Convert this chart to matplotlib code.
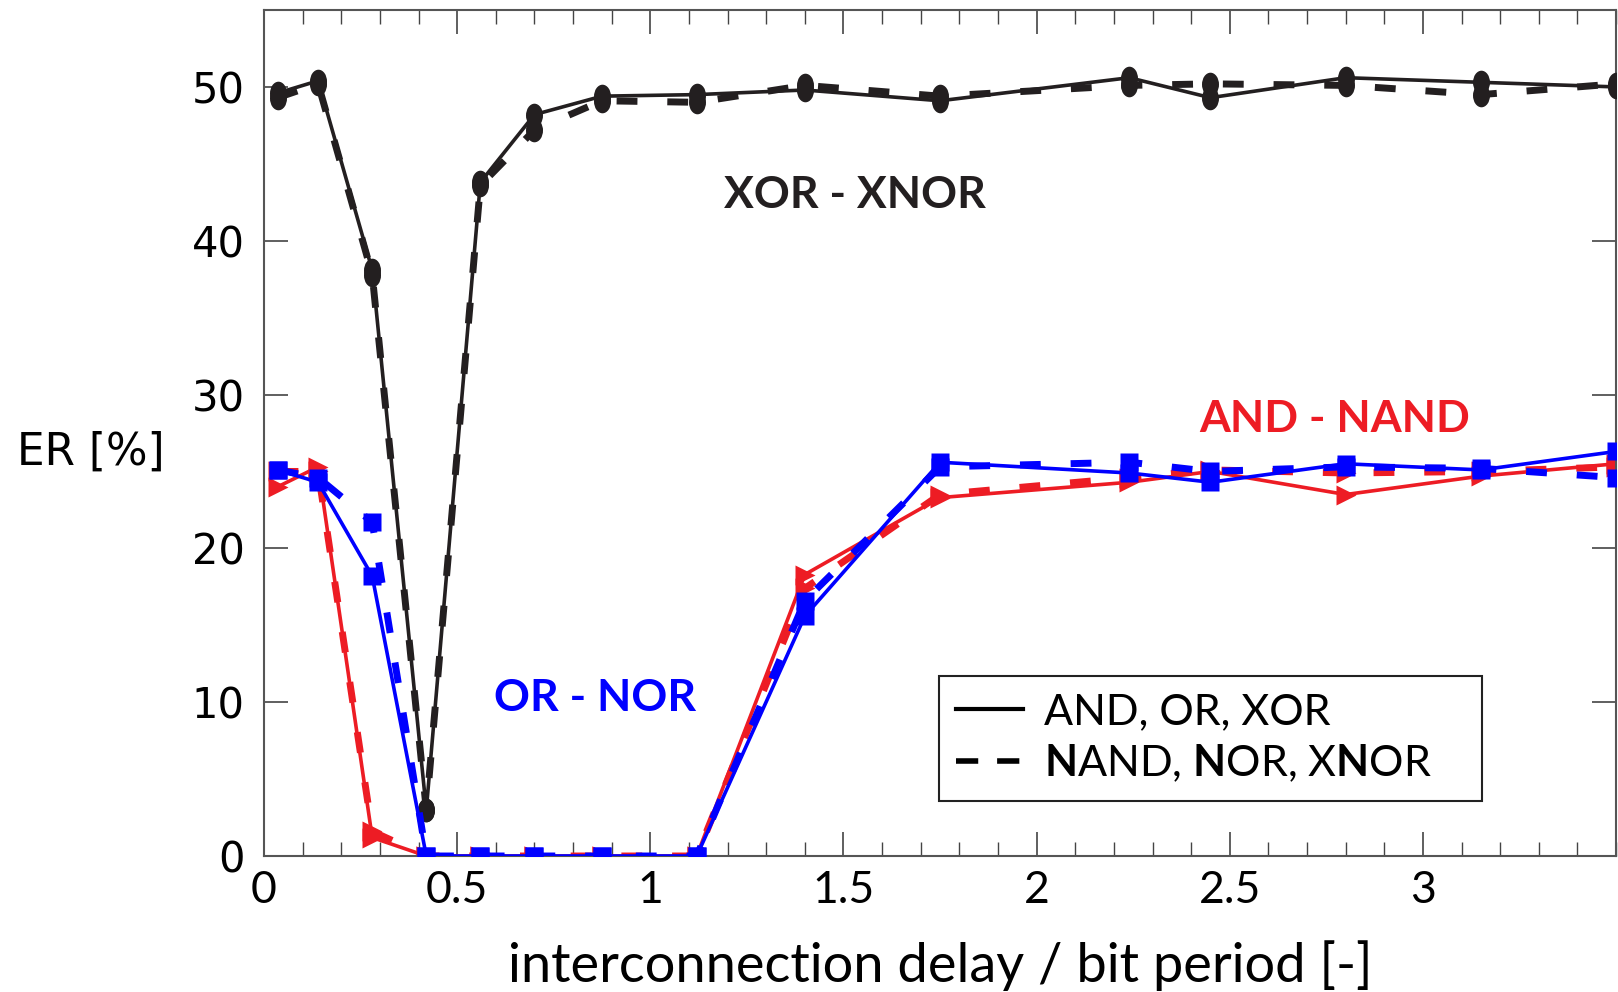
import matplotlib
matplotlib.use("Agg")
import matplotlib.pyplot as plt
import numpy as np
from matplotlib.lines import Line2D
from matplotlib.path import Path
from matplotlib.transforms import Affine2D
from matplotlib.ticker import MultipleLocator

plt.rcParams['mathtext.fontset'] = 'custom'
plt.rcParams['mathtext.rm'] = 'Lato'
plt.rcParams['mathtext.bf'] = 'Lato:bold'

# delay normalised to the bit period
delay = [0.035, 0.14, 0.28, 0.42, 0.56, 0.70, 0.875, 1.12, 1.40,
         1.75, 2.24, 2.45, 2.80, 3.15, 3.50]

er_xor = [49.6, 50.4, 38.1, 3.0, 43.8, 48.2, 49.4, 49.5, 49.8,
          49.1, 50.6, 49.3, 50.6, 50.3, 50.0]
er_xnor = [49.3, 50.2, 37.8, 3.0, 43.6, 47.2, 49.1, 49.0, 50.1,
           49.4, 50.1, 50.2, 50.1, 49.5, 50.2]

er_or = [25.1, 24.3, 18.2, 0.0, 0.0, 0.0, 0.0, 0.0, 15.6,
         25.6, 24.9, 24.3, 25.5, 25.1, 26.3]
er_nor = [25.1, 24.6, 21.7, 0.0, 0.0, 0.0, 0.0, 0.0, 16.6,
          25.3, 25.6, 25.0, 25.3, 25.2, 24.6]

er_and = [24.0, 25.3, 1.2, 0.0, 0.0, 0.0, 0.0, 0.0, 18.3,
          23.3, 24.3, 25.0, 23.5, 24.7, 25.5]
er_nand = [25.0, 25.0, 1.6, 0.0, 0.0, 0.0, 0.0, 0.0, 17.4,
           23.5, 24.6, 25.1, 24.9, 25.0, 25.3]

BLACK = '#231f20'
RED = '#ed1c24'
BLUE = '#0000ff'

# slightly tall elliptical dot
ellipse = Path.unit_circle().transformed(Affine2D().scale(0.72, 1.0))

fig = plt.figure(figsize=(16.18, 9.92), dpi=100)
ax = fig.add_axes([0.1632, 0.1371, 0.8356, 0.8528])

dash = (3.0, 4.3)

ax.plot(delay, er_nand, color=RED, lw=5, ls=(0, dash), marker='>', ms=15, mec='none', zorder=2)
ax.plot(delay, er_and, color=RED, lw=2.6, marker='>', ms=15, mec='none', zorder=2.1)
ax.plot(delay, er_xnor, color=BLACK, lw=5, ls=(0, dash), marker=ellipse, ms=17, mec='none', zorder=3)
ax.plot(delay, er_xor, color=BLACK, lw=2.6, marker=ellipse, ms=17, mec='none', zorder=3.1)
ax.plot(delay, er_nor, color=BLUE, lw=5, ls=(0, dash), marker='s', ms=13, mec='none', zorder=4)
ax.plot(delay, er_or, color=BLUE, lw=2.6, marker='s', ms=13, mec='none', zorder=4.1)

ax.set_xlim(0, 3.5)
ax.set_ylim(0, 55)
ax.xaxis.set_major_locator(MultipleLocator(0.5))
ax.xaxis.set_minor_locator(MultipleLocator(0.1))
ax.yaxis.set_major_locator(MultipleLocator(10))
ax.set_xticks([0, 0.5, 1, 1.5, 2, 2.5, 3])
ax.set_xticklabels(['0', '0.5', '1', '1.5', '2', '2.5', '3'])

ax.tick_params(which='both', direction='in', top=True, right=True, color='#444444')
ax.tick_params(which='major', length=17, width=1.2)
ax.tick_params(which='minor', length=10, width=1.0)
ax.tick_params(axis='x', which='major', pad=10)
ax.tick_params(axis='y', which='major', pad=14)
for lab in ax.get_xticklabels():
    lab.set_family('Lato')
    lab.set_fontsize(32)
for lab in ax.get_yticklabels():
    lab.set_family('DejaVu Sans')
    lab.set_fontsize(30)
for sp in ax.spines.values():
    sp.set_color('#555555')
    sp.set_linewidth(1.5)

ax.set_xlabel('interconnection delay / bit period [-]', family='Lato', fontsize=39, labelpad=21)
ax.set_ylabel('ER [%]', family='DejaVu Sans', fontsize=31.5, rotation=0, ha='center', va='center')
ax.yaxis.set_label_coords(-0.128, 0.478)

ax.text(1.53, 43.0, 'XOR - XNOR', color=BLACK, family='Lato', weight='bold', fontsize=32,
        ha='center', va='center')
ax.text(0.856, 10.3, 'OR - NOR', color=BLUE, family='Lato', weight='bold', fontsize=32,
        ha='center', va='center')
ax.text(2.772, 28.4, 'AND - NAND', color=RED, family='Lato', weight='bold', fontsize=32,
        ha='center', va='center')

handles = [Line2D([], [], color='black', lw=3),
           Line2D([], [], color='black', lw=4, ls=(0, (4.0, 3.4)))]
labels = ['AND, OR, XOR', r'$\mathbf{N}$AND, $\mathbf{N}$OR, X$\mathbf{N}$OR' + '\u2003\u2003']
leg = ax.legend(handles, labels, loc='lower left', bbox_to_anchor=(0.499, 0.065),
                prop={'family': 'Lato', 'size': 31}, frameon=True, fancybox=False,
                edgecolor='#222222', framealpha=1, borderpad=0.4, labelspacing=0.25,
                handlelength=1.55, handletextpad=0.5, borderaxespad=0)
leg.get_frame().set_linewidth(1.5)

fig.savefig('out.png', dpi=100)
